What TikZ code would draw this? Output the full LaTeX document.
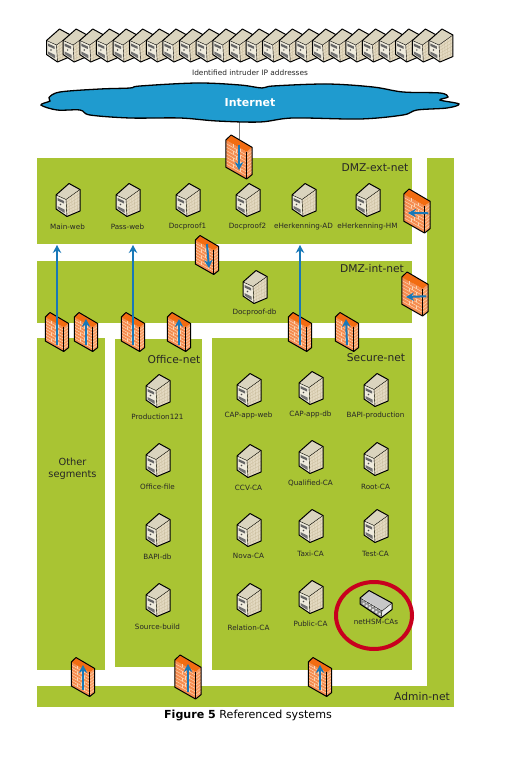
\documentclass[tikz,border=0pt]{standalone}
\usepackage{fontspec}
\setmainfont{DejaVu Sans}
\usetikzlibrary{arrows.meta, shapes.geometric}
\definecolor{netgreen}{HTML}{A9C433}
\definecolor{cloudblue}{HTML}{1F9BCF}
\definecolor{flowblue}{HTML}{1878B8}
\definecolor{brick}{HTML}{F58C50}
\definecolor{brickline}{HTML}{FCD3B0}
\definecolor{brickside}{HTML}{F79A60}
\definecolor{bricktop}{HTML}{F26C12}
\definecolor{ringred}{HTML}{C8001E}
\definecolor{towertop}{HTML}{DAD4BE}
\definecolor{towerfront}{HTML}{EFEBDD}
\definecolor{towerside}{HTML}{E4DAC2}
\definecolor{towergrid}{HTML}{C9BC9C}
\tikzset{
    net/.style = {fill=netgreen, draw=none},
    hostlabel/.style = {font=\fontsize{7.2}{8}\selectfont, text=black!85, inner sep=0pt},
    netlabel/.style = {font=\fontsize{10.7}{12}\selectfont, text=black!85, inner sep=0pt},
    flow/.style = {-{Stealth[length=8pt,width=8.5pt]}, draw=flowblue, line width=1.5pt},
    shortflow/.style = {flow, line width=2pt},
    server/.pic = {
        \fill[towertop] (-12,-5) -- (1,-16.5) -- (12,-10.5) -- (-2,-0.5) -- cycle;
        \fill[towerfront] (-12,-5) -- (-2,-0.5) -- (-1,16.5) -- (-12,9) -- cycle;
        \fill[towerside] (-2,-0.5) -- (12,-10.5) -- (12,11) -- (-1,16.5) -- cycle;
        \foreach \i in {1,...,4}
            \draw[towergrid, line width=0.3pt] (-2+\i*2.8,-1.5-\i*2) -- (-1+\i*2.6,15.5-\i*1.2);
        \foreach \i in {1,...,5}
            \draw[towergrid, line width=0.3pt] (-2,-0.5+\i*2.9) -- (12,-10.5+\i*3.6);
        \fill[black!60] (-10.5,-2) -- (-4,1) -- (-4,3.5) -- (-10.5,0.5) -- cycle;
        \fill[black!70] (-7.5,4.5) circle (0.8);
        \fill[black!55] (-10.5,6) -- (-3.5,9.5) -- (-3.5,13) -- (-10.5,8.5) -- cycle;
        \draw[line width=1pt, line join=round] (-12,-5) -- (1,-16.5) -- (12,-10.5) -- (12,11)
            -- (-1,16.5) -- (-12,9) -- cycle;
        \draw[line width=0.4pt] (-12,-5) -- (-2,-0.5) -- (12,-10.5) (-2,-0.5) -- (-1,16.5);
    },
    firewall/.pic = {
        \fill[brick] (-11.7,-15) -- (6.7,-4.7) -- (6.7,19.5) -- (-11.7,9) -- cycle;
        \fill[brickside] (6.7,-4.7) -- (11.7,-8.5) -- (11.7,15.5) -- (6.7,19.5) -- cycle;
        \fill[bricktop] (-11.7,-15) -- (-7,-19.5) -- (11.7,-8.5) -- (6.7,-4.7) -- cycle;
        \foreach \i in {1,...,7} {
            \draw[brickline, line width=0.5pt] (-11.7,-15+\i*3) -- (6.7,-4.7+\i*3);
            \draw[brickline, line width=0.5pt] (6.7,-4.7+\i*3) -- (11.7,-8.5+\i*3);
        }
        \foreach \i in {0,2,4,6}
            \draw[brickline, line width=0.5pt] (-5.5,-11.5+\i*3) -- (-5.5,-8.5+\i*3)
                (1.5,-7.5+\i*3) -- (1.5,-4.5+\i*3);
        \foreach \i in {1,3,5}
            \draw[brickline, line width=0.5pt] (-2,-9.5+\i*3) -- (-2,-6.5+\i*3);
        \draw[line width=1pt, line join=round] (-11.7,-15) -- (-7,-19.5) -- (11.7,-8.5) -- (11.7,15.5)
            -- (6.7,19.5) -- (-11.7,9) -- cycle;
        \draw[line width=0.5pt] (6.7,-4.7) -- (6.7,19.5);
        \coordinate (-foot) at (0,13);
        \coordinate (-head) at (0,-11);
        \coordinate (-east) at (10,2);
    },
    hsmbox/.pic = {
        \fill[black!22] (-16,-6) -- (-7,-13.5) -- (16,-1) -- (6,7) -- cycle;
        \fill[black!8] (6,7) -- (16,-1) -- (16,5.5) -- (5,14) -- cycle;
        \fill[black!45] (-16,-6) -- (6,7) -- (5,14) -- (-16,0) -- cycle;
        \foreach \i in {0,...,5}
            \fill[white!90!black] (-13.5+\i*3.2,-5+\i*1.9) rectangle ++(2,2.2)
                (-13.5+\i*3.2,-1.5+\i*2.1) rectangle ++(2,2.2);
        \draw[line width=1pt, line join=round] (-16,-6) -- (-7,-13.5) -- (16,-1) -- (16,5.5)
            -- (5,14) -- (-16,0) -- cycle;
        \draw[line width=0.4pt] (-16,-6) -- (6,7) -- (16,-1) (6,7) -- (5,14);
    }
}

\begin{document}
\begin{tikzpicture}[x=1pt, y=-1pt]
    \useasboundingbox (0,0) rectangle (511,768);

    % network areas
    \fill[net] (37,158) rectangle (412,244);
    \fill[net] (37,261) rectangle (412,323);
    \fill[net] (37,338) rectangle (105,670);
    \fill[net] (115,339) rectangle (202,667);
    \fill[net] (212,338) rectangle (412,670);
    \fill[net] (427,158) rectangle (454,707);
    \fill[net] (37,686) rectangle (454,707);

    % intruder addresses
    \foreach \i in {0,...,23}
        \pic at ({58.5+\i*16.63},45.5) {server};
    \node[hostlabel, font=\fontsize{7.4}{8}\selectfont] (intruders) at (250,73) {Identified intruder IP addresses};

    % internet
    \coordinate (cloudfoot) at (239,122);
    \coordinate (fwinetback) at (239,139);
    \draw[draw=black!50, line width=0.6pt] (cloudfoot) -- (fwinetback);
    \draw[fill=cloudblue, line width=1.3pt] plot[smooth cycle, tension=0.55] coordinates {
        (41,105) (50,101) (49,97.5) (60,92) (100,89) (130,88) (140,86) (197,83) (240,85) (262,88)
        (273,86) (327,84) (373,87) (403,92) (440,93) (448,97) (440,100) (459,104) (447,108)
        (417,110) (403,115) (360,119) (293,118) (260,122) (217,121) (180,118) (130,118) (90,115)
        (80,110) (57,110)};
    \node[font=\bfseries\fontsize{11}{12}\selectfont, text=white, inner sep=0pt] (internet) at (250,103) {Internet};

    % hosts: x, y of the icon, y of the label
    \foreach \x/\y/\ly/\name in {68/200/227/Main-web, 128/200/227/Pass-web, 188/200/227/Docproof1,
        248/200/227/Docproof2, 304/200/227/eHerkenning-AD, 368/200/227/eHerkenning-HM,
        255/287/313/Docproof-db,
        158/391/417/Production121, 158/460/487/Office-file, 158/530/557/BAPI-db, 158/600/627/Source-build,
        249/390/416/CAP-app-web, 311/388/415/CAP-app-db, 376/390/416/BAPI-production,
        249/461/488/CCV-CA, 311/457/483/Qualified-CA, 376/459/487/Root-CA,
        249/530/556/Nova-CA, 311/526/554/Taxi-CA, 376/526/554/Test-CA,
        249/600/628/Relation-CA, 311/597/624/Public-CA} {
        \pic at (\x,\y) {server};
        \node[hostlabel] (\name) at (\x-0.5,\ly) {\name};
    }

    \pic at (376,604) {hsmbox};
    \node[hostlabel] (netHSM) at (376,622) {netHSM-CAs};
    \node[draw=ringred, line width=4pt, ellipse, minimum width=76pt, minimum height=67pt, inner sep=0pt] (ring) at (374,615.5) {};

    % firewalls
    \foreach \name/\x/\y/\s in {fwinet/239/157/1.13, fwext/417/211/1.13, fwint/415/294/1.13, fwdmz/207/255/1,
        fwa/57/332/1, fwb/86/332/1, fwc/133/332/1, fwd/179/332/1, fwe/300/332/1, fwf/347/332/1,
        fwg/83/677/1, fwh/188/677/1.13, fwi/320/677/1}
        \pic[scale=\s] (\name) at (\x,\y) {firewall};

    \coordinate (tipa) at (57,245);
    \coordinate (tipc) at (133,245);
    \coordinate (tipe) at (300,245);
    \coordinate (tipb) at (86,319);
    \coordinate (tipd) at (179,319);
    \coordinate (tipf) at (346,319);
    \coordinate (tipg) at (83,665);
    \coordinate (tiph) at (188,664);
    \coordinate (tipi) at (320,665);
    \coordinate (tipinet) at (239,170);
    \coordinate (tipdmz) at (209,268);
    \coordinate (tipext) at (408,213);
    \coordinate (tipint) at (406,297);

    \draw[flow] (fwa-foot) -- (tipa);
    \draw[flow] (fwc-foot) -- (tipc);
    \draw[flow] (fwe-foot) -- (tipe);
    \foreach \from/\to in {fwb/tipb, fwd/tipd, fwf/tipf, fwg/tipg, fwh/tiph, fwi/tipi}
        \draw[shortflow] (\from-foot) -- (\to);
    \draw[shortflow] (fwinet-head) -- (tipinet);
    \draw[shortflow] (fwdmz-head) -- (tipdmz);
    \draw[shortflow] (fwext-east) -- (tipext);
    \draw[shortflow] (fwint-east) -- (tipint);

    % network names
    \node[netlabel] (dmzext) at (375,168) {DMZ-ext-net};
    \node[netlabel] (dmzint) at (372,269) {DMZ-int-net};
    \node[netlabel] (officenet) at (174,360) {Office-net};
    \node[netlabel] (securenet) at (376,358) {Secure-net};
    \node[netlabel] (adminnet) at (422,697) {Admin-net};
    \node[netlabel, font=\fontsize{9.8}{12}\selectfont, align=center] (other) at (72.5,469) {Other\\ segments};

    \node[inner sep=0pt, font=\fontsize{11.1}{13}\selectfont] (caption) at (248,715.5) {\textbf{Figure 5} Referenced systems};
\end{tikzpicture}
\end{document}
